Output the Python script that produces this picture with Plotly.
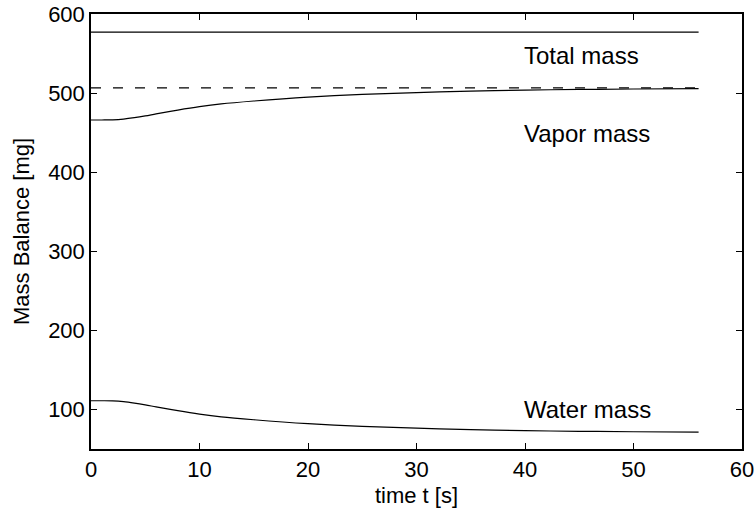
import plotly.graph_objects as go

# time axis [s]
t = [0, 1, 2, 3, 4, 5, 6, 8, 10, 12, 15, 20, 25, 30, 35, 40, 45, 50, 56]
water = [111, 111, 110.8, 109.8, 108, 105.8, 103.3, 98.5, 94.2, 90.7, 87, 82, 78.5, 76.3, 74.5, 73.2, 72.4, 71.8, 71.3]
vapor = [466, 466, 466.2, 467.2, 469, 471.2, 473.7, 478.5, 482.8, 486.3, 490, 495, 498.5, 500.7, 502.5, 503.8, 504.6, 505.2, 505.7]
total_t = [0, 56]
total = [577, 577]
vapor_eq_t = [0, 56]
vapor_eq = [506.5, 506.5]

labels = ["Total mass", "Vapor mass", "Water mass"]
label_x = [40, 40, 40]
label_y = [548, 449, 100]

xticks = [0, 10, 20, 30, 40, 50, 60]
yticks = [100, 200, 300, 400, 500, 600]

FONT = "Liberation Sans, Arial, sans-serif"

fig = go.Figure()
fig.add_trace(go.Scatter(x=total_t, y=total, mode="lines", line=dict(color="black", width=1.2)))
fig.add_trace(go.Scatter(x=vapor_eq_t, y=vapor_eq, mode="lines",
                         line=dict(color="black", width=1.2, dash="10px,12px")))
fig.add_trace(go.Scatter(x=t, y=vapor, mode="lines", line=dict(color="black", width=1.2, shape="spline")))
fig.add_trace(go.Scatter(x=t, y=water, mode="lines", line=dict(color="black", width=1.2, shape="spline")))

for s, xx, yy in zip(labels, label_x, label_y):
    fig.add_annotation(x=xx, y=yy, text=s, showarrow=False, xanchor="left", yanchor="middle",
                       xshift=-3, font=dict(family=FONT, size=24, color="black"))

axis_common = dict(showgrid=False, zeroline=False, showline=True, linecolor="black", linewidth=1.5,
                   mirror="allticks", ticks="inside", ticklen=6, tickcolor="black", tickwidth=1,
                   automargin=False,
                   tickfont=dict(family=FONT, size=22, color="black"))

fig.update_layout(
    width=756, height=508,
    margin=dict(l=91, r=14, t=14, b=59),
    paper_bgcolor="white", plot_bgcolor="white",
    showlegend=False,
    xaxis=dict(range=[0, 60], tickvals=xticks,
               title=dict(text="time t [s]", font=dict(family=FONT, size=22, color="black"), standoff=8),
               **axis_common),
    yaxis=dict(range=[50, 600], tickvals=yticks,
               title=dict(text="Mass Balance [mg]", font=dict(family=FONT, size=22, color="black"), standoff=12),
               **axis_common),
)

fig.write_html("out.html")
